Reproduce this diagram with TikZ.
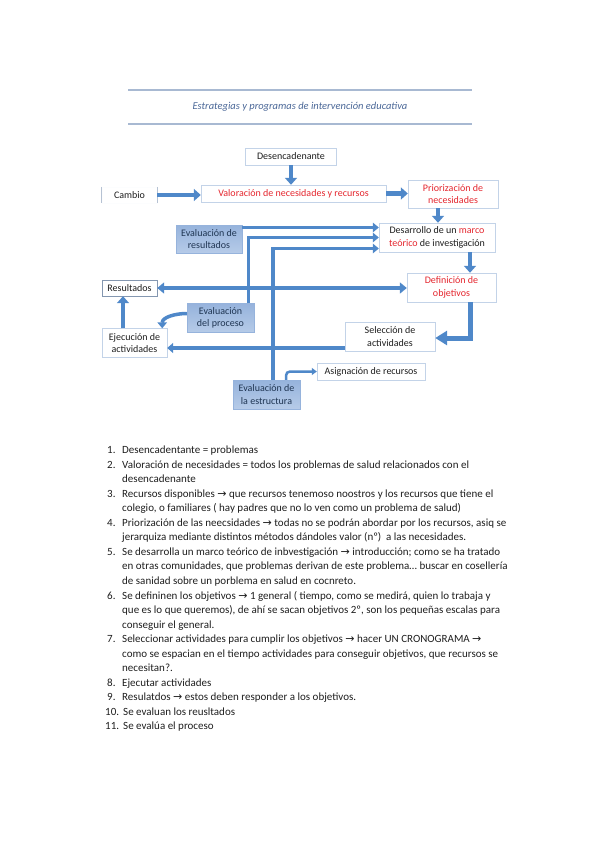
\documentclass[tikz,border=0pt]{standalone}
\usepackage{fontspec}
\setmainfont{Carlito}
\newfontfamily\symfont{DejaVu Sans}
\usetikzlibrary{arrows.meta}
\definecolor{ablue}{HTML}{4F88C9}
\definecolor{wline}{HTML}{C3D3E8}
\definecolor{rline}{HTML}{8497B0}
\definecolor{btop}{HTML}{96B3DC}
\definecolor{bbot}{HTML}{B6CBE8}
\definecolor{btext}{HTML}{1F3552}
\definecolor{tred}{HTML}{E5262E}
\definecolor{ttitle}{HTML}{4A6797}
\definecolor{rulec}{HTML}{A8B9D2}
\definecolor{ttext}{HTML}{1E1E1E}
\newcommand\diafont{\fontsize{10}{12.5}\selectfont}
\newcommand\listfont{\fontsize{11}{14.53}\selectfont}
\newcommand\flecha{{\symfont\fontsize{11}{10}\selectfont →}}
\newcommand\rojo[1]{{\color{tred}#1}}

\begin{document}
\begin{tikzpicture}[x=1pt,y=-1pt,
  wbox/.style={draw=wline, fill=white, align=center, font=\diafont, text=ttext, inner sep=1pt},
  bbox/.style={draw=btop, top color=btop, bottom color=bbot, align=center, font=\diafont, text=btext, inner sep=1pt},
  flow/.style={line width=4.5pt, ablue, -{Triangle[length=7pt,width=12pt]}},
  flowbig/.style={line width=5pt, ablue, -{Triangle[length=12pt,width=14pt]}},
  wide/.style={line width=4pt, ablue, -{Triangle[length=6pt,width=10pt]}},
  both/.style={line width=4pt, ablue, {Triangle[length=7pt,width=11pt]}-{Triangle[length=7pt,width=11pt]}},
  feed/.style={line width=3.5pt, ablue, -{Triangle[length=6pt,width=9.5pt]}},
  slim/.style={line width=2.5pt, ablue, -{Triangle[length=5pt,width=7pt]}},
  rulel/.style={line width=1.2pt, rulec},
  num/.style={anchor=north west, inner sep=0pt, font=\listfont, text=ttext},
  item/.style={anchor=north west, inner sep=0pt, align=left, font=\listfont, text=ttext}]
\useasboundingbox (0,0) rectangle (599,848);
% header
\draw[rulel] (128,90) -- (472,90);
\draw[rulel] (128,124) -- (472,124);
\node[font=\fontsize{10.5}{12}\selectfont\itshape, text=ttitle] (titulo) at (300,107) {Estrategias y programas de intervención educativa};
% boxes
\node[wbox, minimum width=91, minimum height=17] (desc) at (291,156.5) {Desencadenante};
\node[wbox, minimum width=185, minimum height=17, text=tred] (val) at (293.5,193.5) {Valoración de necesidades y recursos};
\node[wbox, draw=white!95!wline, minimum width=55, minimum height=16] (cambio) at (129.5,195) {Cambio};
\draw[wline!80!gray, line width=0.8pt] (cambio.north west) -- (cambio.south west);
\draw[wline!80!gray, line width=0.8pt] (cambio.north east) -- (cambio.south east);
\node[wbox, minimum width=90, minimum height=28, text=tred] (prio) at (453,194) {Priorización de\\necesidades};
\node[wbox, minimum width=116, minimum height=29] (desa) at (437,237.5) {Desarrollo de un \rojo{marco}\\\rojo{teórico} de investigación};
\node[bbox, minimum width=66, minimum height=28] (evres) at (209,239) {Evaluación de\\resultados};
\node[wbox, minimum width=89, minimum height=29, text=tred] (defi) at (451.5,287.5) {Definición de\\objetivos};
\node[wbox, draw=rline, minimum width=55, minimum height=16] (resu) at (129.5,288) {Resultados};
\node[bbox, minimum width=67, minimum height=29] (evpro) at (220.5,318) {Evaluación\\del proceso};
\node[wbox, minimum width=90, minimum height=29] (sele) at (390,336.5) {Selección de\\actividades};
\node[wbox, minimum width=65, minimum height=29] (ejec) at (134.5,343) {Ejecución de\\actividades};
\node[bbox, minimum width=67, minimum height=29] (evest) at (266.5,394.5) {Evaluación de\\la estructura};
\node[wbox, minimum width=108, minimum height=17] (asig) at (371,371.5) {Asignación de recursos};
% connectors
\draw[flow] (desc.south) -- (desc.south |- val.north);
\draw[flow] (cambio.east) -- (cambio.east -| val.west);
\draw[flow] (val.east) -- (val.east -| prio.west);
\draw[flow] ([xshift=-15pt]prio.south) -- ([xshift=-15pt]prio.south |- desa.north);
\draw[flow] ([xshift=33pt]desa.south) -- ([xshift=33pt]desa.south |- defi.north);
\draw[flowbig] ([xshift=18.5pt]defi.south) |- ([yshift=-1.5pt]sele.east);
\draw[wide] ([yshift=-11.5pt]sele.west) -- ([yshift=-11.5pt]sele.west -| ejec.east);
\draw[flow] ([xshift=-11.5pt]ejec.north) -- ([xshift=-11.5pt]ejec.north |- resu.south);
\draw[feed] ([xshift=28pt]evpro.north) |- (desa.west);
\draw[feed] ([xshift=6.5pt]evest.north) |- ([yshift=-11pt]desa.west);
\draw[both] (resu.east) -- (resu.east -| defi.west);
\draw[feed] ([yshift=11.5pt]evres.east) -- ([yshift=11.5pt]evres.east -| desa.west);
\draw[slim, rounded corners=4pt] ([xshift=19.5pt]evest.north) |- (asig.west);
\draw[feed] ([yshift=4.5pt]evpro.west) to[out=180,in=90] ([xshift=-5pt]ejec.north east);
% numbered notes
\foreach \n/\x/\t in {1/107/443.35, 2/107/457.85, 3/107/486.95, 4/107/516.05, 5/107/545.05, 6/107/588.65, 7/107/632.25, 8/107/675.85, 9/107/690.35, 10/105/704.85, 11/105/719.45}
  \node[num] (n\n) at (\x,\t) {\strut\n.};
\node[item] (t1) at (122,443.35) {\strut Desencadentante = problemas};
\node[item] (t2) at (122,457.85) {\strut Valoración de necesidades = todos los problemas de salud relacionados con el\\desencadenante};
\node[item] (t3) at (122,486.95) {\strut Recursos disponibles \flecha{} que recursos tenemoso noostros y los recursos que tiene el\\colegio, o familiares ( hay padres que no lo ven como un problema de salud)};
\node[item] (t4) at (122,516.05) {\strut Priorización de las neecsidades \flecha{} todas no se podrán abordar por los recursos, asiq se\\jerarquiza mediante distintos métodos dándoles valor (nº)\ \ a las necesidades.};
\node[item] (t5) at (122,545.05) {\strut Se desarrolla un marco teórico de inbvestigación \flecha{} introducción; como se ha tratado\\en otras comunidades, que problemas derivan de este problema… buscar en cosellería\\de sanidad sobre un porblema en salud en cocnreto.};
\node[item] (t6) at (122,588.65) {\strut Se defininen los objetivos \flecha{} 1 general ( tiempo, como se medirá, quien lo trabaja y\\que es lo que queremos), de ahí se sacan objetivos 2º, son los pequeñas escalas para\\conseguir el general.};
\node[item] (t7) at (122,632.25) {\strut Seleccionar actividades para cumplir los objetivos \flecha{} hacer UN CRONOGRAMA \flecha\\como se espacian en el tiempo actividades para conseguir objetivos, que recursos se\\necesitan?.};
\node[item] (t8) at (122,675.85) {\strut Ejecutar actividades};
\node[item] (t9) at (122,690.35) {\strut Resulatdos \flecha{} estos deben responder a los objetivos.};
\node[item] (t10) at (123,704.85) {\strut Se evaluan los reusltados};
\node[item] (t11) at (123,719.45) {\strut Se evalúa el proceso};
\end{tikzpicture}
\end{document}
